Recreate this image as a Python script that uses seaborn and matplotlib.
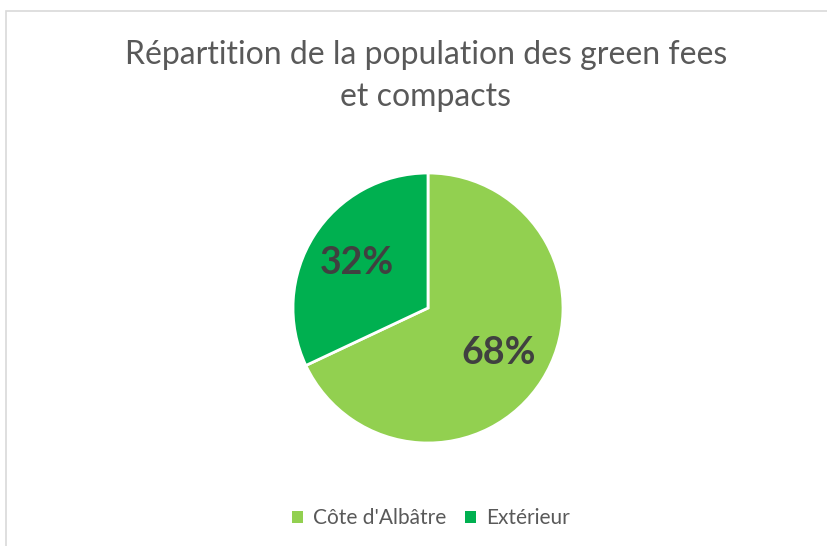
import matplotlib.pyplot as plt
import seaborn as sns
from matplotlib.patches import Rectangle, Patch

# Data
categories = ["Côte d'Albâtre", "Extérieur"]
shares = [68, 32]
colors = ["#92D050", "#00B050"]
title = "Répartition de la population des green fees\net compacts"

sns.set_theme(style="white")
plt.rcParams['font.family'] = ['Lato', 'DejaVu Sans']

fig = plt.figure(figsize=(8.28, 5.46), dpi=100)

# chart frame (cut off on the right and bottom like the screenshot)
fig.patches.append(Rectangle((6 / 828, -0.05), 1.2, 1 - 11 / 546 + 0.05,
                             transform=fig.transFigure, fill=False,
                             edgecolor="#D9D9D9", linewidth=1.2))

# pie axes: centre (428, 308), radius 135 px
r = 135
ax = fig.add_axes([(428 - r) / 828, (546 - 308 - r) / 546, 2 * r / 828, 2 * r / 546])
wedges, texts, autotexts = ax.pie(
    shares, colors=colors, startangle=90, counterclock=False,
    autopct='%1.0f%%', pctdistance=0.62,
    wedgeprops=dict(edgecolor="white", linewidth=2),
    textprops=dict(color="#404040", fontsize=27, fontweight="bold"))
ax.set_xlim(-1, 1)
ax.set_ylim(-1, 1)
ax.set_aspect('equal')

fig.text(426 / 828, 1 - 76 / 546, title, ha='center', va='center',
         fontsize=23, color="#595959", linespacing=1.52)

handles = [Patch(facecolor=c, edgecolor='none') for c in colors]
fig.legend(handles, categories, loc='center', bbox_to_anchor=(431 / 828, 1 - 518 / 546),
           ncol=2, frameon=False, fontsize=15, labelcolor="#595959",
           handlelength=0.5, handleheight=0.5, handletextpad=0.5, columnspacing=0.9)

fig.savefig("out.png", dpi=100, facecolor="white")
